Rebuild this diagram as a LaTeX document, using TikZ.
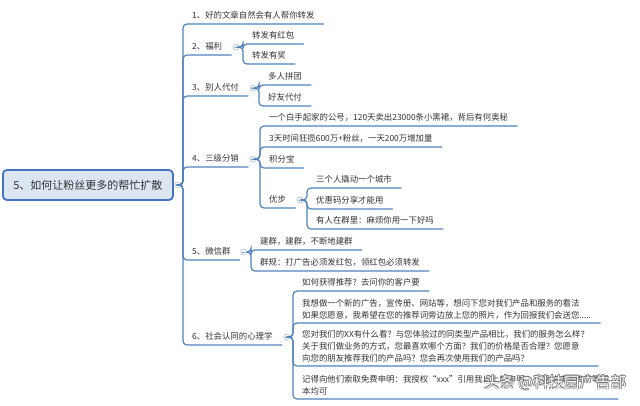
\documentclass[tikz,border=0pt]{standalone}
\usepackage{fontspec}
\setmainfont{Noto Sans CJK SC}
\usetikzlibrary{calc}
\definecolor{linec}{RGB}{79,129,189}
\definecolor{txt}{RGB}{51,51,51}
\definecolor{rootfill}{RGB}{220,230,242}
\definecolor{rootline}{RGB}{70,114,196}
\tikzset{
  topicbase/.style={anchor=south west, inner xsep=9pt, inner ysep=3.5pt,
    font=\fontsize{8.4}{11.8}\selectfont, text=txt, align=left},
  topic/.style={topicbase, text height=7pt, text depth=1.5pt},
  multitopic/.style={topicbase},
  conn/.style={draw=linec, line width=1.2pt, rounded corners=4pt, line cap=round},
  fold/.style={circle, draw=linec!55, fill=white, inner sep=0pt, minimum size=6pt, line width=0.5pt,
    path picture={\draw[linec!70,line width=0.5pt]
      ([xshift=-1.7pt]path picture bounding box.center) -- ([xshift=1.7pt]path picture bounding box.center);}},
  rootbox/.style={anchor=west, draw=rootline, line width=1.8pt, fill=rootfill, rounded corners=4pt,
    minimum width=170pt, minimum height=30pt, font=\fontsize{11}{13}\selectfont, text=txt},
  wmark/.style={font=\fontsize{15.5}{18}\selectfont, inner sep=0pt},
}
\begin{document}
\begin{tikzpicture}[x=1pt,y=-1pt]
\useasboundingbox (0,0) rectangle (640,405);

% root
\node[rootbox] (root) at (2,185) {5、如何让粉丝更多的帮忙扩散};
\node[fold] (f0) at ([xshift=4pt]root.east) {};

% main branches
\node[topic] (b1) at (183,24) {1、好的文章自然会有人帮你转发};
\node[topic] (b2) at (183,55) {2、福利};
\node[topic] (b3) at (183,96) {3、别人代付};
\node[topic] (b4) at (183,167) {4、三级分销};
\node[topic] (b5) at (183,260) {5、微信群};
\node[topic] (b6) at (183,345) {6、社会认同的心理学};

\foreach \b in {b1,b2,b3,b4,b5,b6}
  \draw[conn] (f0.east) -| (\b.south west) -- (\b.south east);

% branch 2
\node[fold] (f2) at ([xshift=5pt]b2.east) {};
\node[topic] (c21) at (243,44) {转发有红包};
\node[topic] (c22) at (243,64) {转发有奖};
\foreach \c in {c21,c22}
  \draw[conn] (f2.east) -| (\c.south west) -- (\c.south east);

% branch 3
\node[fold] (f3) at ([xshift=5pt]b3.east) {};
\node[topic] (c31) at (259,85) {多人拼团};
\node[topic] (c32) at (259,106) {好友代付};
\foreach \c in {c31,c32}
  \draw[conn] (f3.east) -| (\c.south west) -- (\c.south east);

% branch 4
\node[fold] (f4) at ([xshift=5pt]b4.east) {};
\node[topic] (c41) at (260,126) {一个白手起家的公号，120天卖出23000条小黑裙，背后有何奥秘};
\node[topic] (c42) at (260,147) {3天时间狂揽600万+粉丝，一天200万增加量};
\node[topic] (c43) at (260,168) {积分宝};
\node[topic] (c44) at (260,208) {优步};
\foreach \c in {c41,c42,c43,c44}
  \draw[conn] (f4.east) -| (\c.south west) -- (\c.south east);

\node[fold] (f44) at ([xshift=5pt]c44.east) {};
\node[topic] (d1) at (307,188) {三个人撬动一个城市};
\node[topic] (d2) at (307,209) {优惠码分享才能用};
\node[topic] (d3) at (307,229) {有人在群里：麻烦你用一下好吗};
\foreach \c in {d1,d2,d3}
  \draw[conn] (f44.east) -| (\c.south west) -- (\c.south east);

% branch 5
\node[fold] (f5) at ([xshift=4pt]b5.east) {};
\node[topic] (e1) at (251,250) {建群，建群，不断地建群};
\node[topic] (e2) at (251,271) {群规：打广告必须发红包，领红包必须转发};
\foreach \c in {e1,e2}
  \draw[conn] (f5.east) -| (\c.south west) -- (\c.south east);

% branch 6
\node[fold] (f6) at ([xshift=5pt]b6.east) {};
\node[topic] (g1) at (293,291) {如何获得推荐？去问你的客户要};
\node[multitopic] (g2) at (293,323) {我想做一个新的广告，宣传册、网站等，想问下您对我们产品和服务的看法\\如果您愿意，我希望在您的推荐词旁边放上您的照片，作为回报我们会送您.....};
\node[multitopic] (g3) at (293,366) {您对我们的XX有什么看？与您体验过的同类型产品相比，我们的服务怎么样？\\关于我们做业务的方式，您最喜欢哪个方面？我们的价格是否合理？您愿意\\向您的朋友推荐我们的产品吗？您会再次使用我们的产品吗？};
\node[multitopic] (g4) at (293,399) {记得向他们索取免费申明：我授权“xxx”引用我以上的申明，在网站或宣传册等版\\本均可};
\foreach \c in {g1,g2,g3,g4}
  \draw[conn] (f6.east) -| (\c.south west) -- (\c.south east);

% watermark
\foreach \dx/\dy [count=\i] in {0.7/0.7,-0.5/0.5,0.5/-0.5,-0.5/-0.5}
  \node[wmark, text=black!55] (wmo\i) at (555+\dx,383+\dy) {头条 @科技园广告部};
\node[wmark, text=white] (wm) at (555,383) {头条 @科技园广告部};
\end{tikzpicture}
\end{document}
